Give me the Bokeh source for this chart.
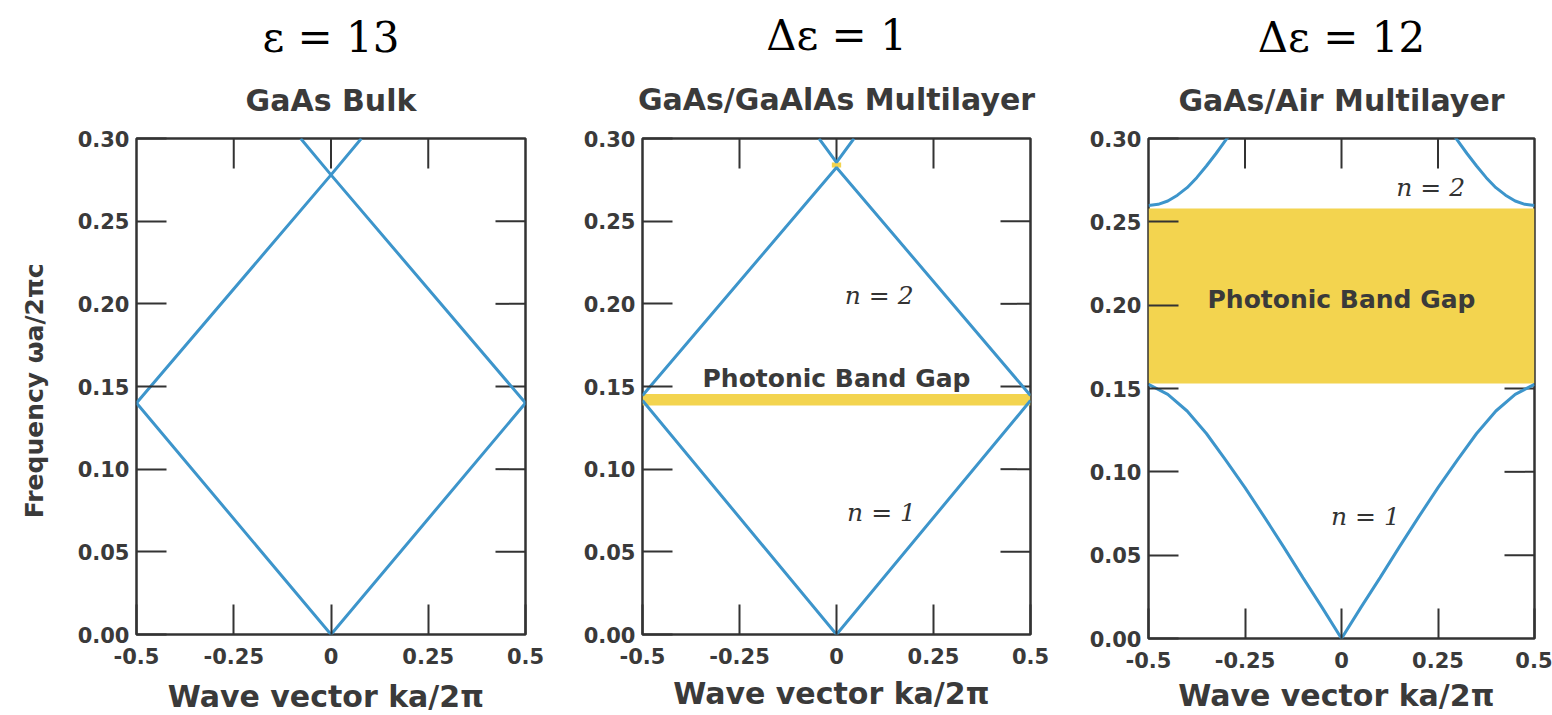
import math
from bokeh.plotting import figure
from bokeh.layouts import row
from bokeh.models import Label, FixedTicker, NumeralTickFormatter, Range1d, Title
from bokeh.embed import file_html
from bokeh.resources import INLINE

# ---------------- data ----------------
x_ticks = [-0.5, -0.25, 0.0, 0.25, 0.5]
y_ticks = [0.0, 0.05, 0.10, 0.15, 0.20, 0.25, 0.30]

super_titles = ["ε = 13", "Δε = 1", "Δε = 12"]
sub_titles = ["GaAs Bulk", "GaAs/GaAlAs Multilayer", "GaAs/Air Multilayer"]
x_label = "Wave vector  ka/2π"
y_label = "Frequency  ωa/2πc"
gap_label = "Photonic Band Gap"

# Panel 1: GaAs bulk (folded light line)
p1_k_band1 = [-0.5, 0.0, 0.5]
p1_w_band1 = [0.140, 0.0, 0.140]
p1_k_band2 = [-0.5, 0.0, 0.5]
p1_w_band2 = [0.140, 0.278, 0.140]
p1_k_band3 = [-0.078, 0.0, 0.078]
p1_w_band3 = [0.300, 0.278, 0.300]

# Panel 2: GaAs/GaAlAs multilayer
p2_k_band1 = [-0.5, 0.0, 0.5]
p2_w_band1 = [0.1415, 0.0, 0.1415]
p2_k_band2 = [-0.5, 0.0, 0.5]
p2_w_band2 = [0.1445, 0.2825, 0.1445]
p2_k_band3 = [-0.045, 0.0, 0.045]
p2_w_band3 = [0.300, 0.2855, 0.300]
p2_gap1 = [0.1385, 0.1455]
p2_gap2 = [0.2825, 0.2855]
p2_gap2_k = [-0.012, 0.012]

# Panel 3: GaAs/Air multilayer
p3_k_band1 = [-0.5, -0.45, -0.40, -0.35, -0.30, -0.25, -0.20, -0.15, -0.10, -0.05, 0.0,
              0.05, 0.10, 0.15, 0.20, 0.25, 0.30, 0.35, 0.40, 0.45, 0.5]
p3_w_band1 = [0.1525, 0.1465, 0.1365, 0.123, 0.107, 0.0905, 0.073, 0.055, 0.0365, 0.0185, 0.0,
              0.0185, 0.0365, 0.055, 0.073, 0.0905, 0.107, 0.123, 0.1365, 0.1465, 0.1525]
p3_k_band2_left = [-0.5, -0.475, -0.45, -0.425, -0.40, -0.375, -0.35, -0.325, -0.30, -0.28]
p3_w_band2_left = [0.2598, 0.2605, 0.2625, 0.2660, 0.2705, 0.2765, 0.2835, 0.2910, 0.2990, 0.305]
p3_k_band2_right = [0.5, 0.475, 0.45, 0.425, 0.40, 0.375, 0.35, 0.325, 0.30, 0.28]
p3_w_band2_right = [0.2598, 0.2605, 0.2625, 0.2660, 0.2705, 0.2765, 0.2835, 0.2910, 0.2990, 0.305]
p3_gap = [0.153, 0.258]

# ---------------- style ----------------
BLUE = "#3d95cb"
YELLOW = "#f3d44f"
FRAME = "#333333"
TXT = "#3a3a3a"
SANS = "DejaVu Sans"
SERIF = "DejaVu Serif"
TICK_LEN = 30


def make_panel(fw, fh, bl, br, bt, bb):
    p = figure(frame_width=fw, frame_height=fh,
               min_border_left=bl, min_border_right=br,
               min_border_top=bt, min_border_bottom=bb,
               x_range=Range1d(-0.5, 0.5), y_range=Range1d(0.0, 0.30),
               output_backend="svg", toolbar_location=None, title=None)
    p.grid.visible = False
    p.outline_line_color = FRAME
    p.outline_line_width = 2.5
    p.outline_line_alpha = 1.0
    p.background_fill_color = "white"
    p.border_fill_color = "white"
    p.xaxis.ticker = FixedTicker(ticks=x_ticks)
    p.xaxis.formatter = NumeralTickFormatter(format="0.[00]")
    p.yaxis.ticker = FixedTicker(ticks=y_ticks)
    p.yaxis.formatter = NumeralTickFormatter(format="0.00")
    for ax in p.axis:
        ax.axis_line_color = None
        ax.major_tick_in = TICK_LEN
        ax.major_tick_out = 0
        ax.minor_tick_line_color = None
        ax.major_tick_line_color = FRAME
        ax.major_tick_line_width = 2
        ax.major_label_text_font = SANS
        ax.major_label_text_font_style = "bold"
        ax.major_label_text_font_size = "21px"
        ax.major_label_text_color = TXT
        ax.axis_label_text_font = SANS
        ax.axis_label_text_font_style = "bold"
        ax.axis_label_text_color = TXT
    p.xaxis.major_label_standoff = 13
    p.yaxis.major_label_standoff = 7
    # inward ticks on the top and right edges, at the same tick values
    inner_x = x_ticks[1:-1]
    inner_y = y_ticks[1:-1]
    p.ray(x=inner_x, y=[p.y_range.end] * len(inner_x), length=TICK_LEN, length_units="screen",
          angle=-math.pi / 2, line_color=FRAME, line_width=2)
    p.ray(x=[p.x_range.end] * len(inner_y), y=inner_y, length=TICK_LEN, length_units="screen",
          angle=math.pi, line_color=FRAME, line_width=2)
    return p


def add_titles(p, i, sub_standoff, sup_standoff):
    p.add_layout(Title(text=sub_titles[i], align="center", standoff=sub_standoff,
                       text_font=SANS, text_font_style="bold",
                       text_font_size="30px", text_color=TXT), "above")
    p.add_layout(Title(text=super_titles[i], align="center", standoff=sup_standoff,
                       text_font=SERIF, text_font_style="normal",
                       text_font_size="42px", text_color="black"), "above")


def set_xlabel(p, standoff):
    p.xaxis.axis_label = x_label
    p.xaxis.axis_label_text_font_size = "30px"
    p.xaxis.axis_label_standoff = standoff


def n_label(p, k, w, txt):
    p.add_layout(Label(x=k, y=w, text=txt, text_align="center", text_baseline="middle",
                       text_font=SERIF, text_font_style="italic",
                       text_font_size="25px", text_color="#333333"))


def gap_text(p, k, w):
    p.add_layout(Label(x=k, y=w, text=gap_label, text_align="center", text_baseline="middle",
                       text_font=SANS, text_font_style="bold",
                       text_font_size="25px", text_color=TXT))


LW = 3

# ---------- panel 1 ----------
p1 = make_panel(389, 496, 136, 54, 136, 81)
p1.line(p1_k_band1, p1_w_band1, line_color=BLUE, line_width=LW)
p1.line(p1_k_band2, p1_w_band2, line_color=BLUE, line_width=LW)
p1.line(p1_k_band3, p1_w_band3, line_color=BLUE, line_width=LW)
add_titles(p1, 0, 42, -5)
set_xlabel(p1, 12)
p1.yaxis.axis_label = y_label
p1.yaxis.axis_label_text_font_size = "25px"
p1.yaxis.axis_label_standoff = 26

# ---------- panel 2 ----------
p2 = make_panel(388, 496, 63, 56, 138, 79)
p2.quad(left=[-0.5], right=[0.5], bottom=[p2_gap1[0]], top=[p2_gap1[1]],
        fill_color=YELLOW, line_color=None)
p2.quad(left=[p2_gap2_k[0]], right=[p2_gap2_k[1]], bottom=[p2_gap2[0]], top=[p2_gap2[1]],
        fill_color=YELLOW, line_color=None)
p2.line(p2_k_band1, p2_w_band1, line_color=BLUE, line_width=LW)
p2.line(p2_k_band2, p2_w_band2, line_color=BLUE, line_width=LW)
p2.line(p2_k_band3, p2_w_band3, line_color=BLUE, line_width=LW)
add_titles(p2, 1, 44, -5)
set_xlabel(p2, 9)
gap_text(p2, 0.0, 0.155)
n_label(p2, 0.11, 0.205, "n = 2")
n_label(p2, 0.116, 0.0735, "n = 1")

# ---------- panel 3 ----------
p3 = make_panel(386, 500, 60, 18, 136, 77)
p3.quad(left=[-0.5], right=[0.5], bottom=[p3_gap[0]], top=[p3_gap[1]],
        fill_color=YELLOW, line_color=None)
p3.line(p3_k_band1, p3_w_band1, line_color=BLUE, line_width=LW)
p3.line(p3_k_band2_left, p3_w_band2_left, line_color=BLUE, line_width=LW)
p3.line(p3_k_band2_right, p3_w_band2_right, line_color=BLUE, line_width=LW)
add_titles(p3, 2, 42, -5)
set_xlabel(p3, 7)
gap_text(p3, 0.0, 0.2033)
n_label(p3, 0.231, 0.2707, "n = 2")
n_label(p3, 0.062, 0.0733, "n = 1")

layout = row(p1, p2, p3)
open("out.html", "w").write(file_html(layout, INLINE))
